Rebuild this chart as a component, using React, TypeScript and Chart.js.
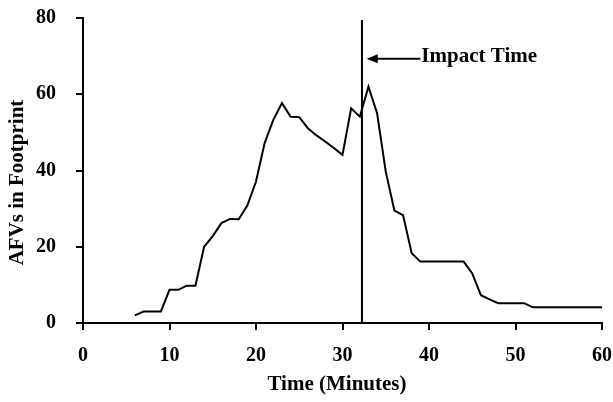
import React, { useEffect, useRef } from "react";
import { Chart, registerables } from "chart.js";

Chart.register(...registerables);

const minutes = [6, 7, 8, 9, 10, 11, 12, 13, 14, 15, 16, 17, 18, 19, 20, 21, 22, 23, 24, 25, 26, 27, 28, 29, 30, 31, 32, 33, 34, 35, 36, 37, 38, 39, 40, 41, 42, 43, 44, 45, 46, 47, 48, 49, 50, 51, 52, 53, 54, 55, 56, 57, 58, 59, 60];
const afvs = [2, 3, 3, 3, 8.7, 8.7, 9.8, 9.8, 20, 22.8, 26.2, 27.3, 27.2, 30.8, 37.1, 47.2, 53.3, 57.7, 54.1, 54, 51.1, 49.2, 47.6, 45.9, 44.1, 56.3, 54.1, 62, 55, 39.7, 29.5, 28.3, 18.3, 16.1, 16.1, 16.1, 16.1, 16.1, 16.1, 13, 7.3, 6.2, 5.2, 5.2, 5.2, 5.2, 4.1, 4.1, 4.1, 4.1, 4.1, 4.1, 4.1, 4.1, 4.1];

const xTickValues = [0, 10, 20, 30, 40, 50, 60];
const yTickValues = [0, 20, 40, 60, 80];

const impactTime = [32.25, 32.25];
const impactRange = [0, 79.5];

const annotationLabel = "Impact Time";
const arrowFrom = [39.0, 69.3];
const arrowTo = [32.8, 69.3];

const xTitle = "Time (Minutes)";
const yTitle = "AFVs in Footprint";

const FONT = "'Liberation Serif', 'Times New Roman', serif";

const overlayPlugin = {
  id: "overlay",
  afterDraw(chart: any) {
    const ctx = chart.ctx as CanvasRenderingContext2D;
    const xs = chart.scales.x;
    const ys = chart.scales.y;
    const bottom = ys.getPixelForValue(0);
    const left = xs.getPixelForValue(0);
    ctx.save();
    ctx.fillStyle = "#000";
    ctx.strokeStyle = "#000";
    ctx.lineWidth = 2;
    ctx.setLineDash([]);
    // Tick marks (outside the plot)
    for (const v of xTickValues) {
      const px = Math.round(xs.getPixelForValue(v));
      ctx.fillRect(px - 1, bottom, 2, 7);
    }
    for (const v of yTickValues) {
      const py = Math.round(ys.getPixelForValue(v));
      ctx.fillRect(left - 7, py - 1, 7, 2);
    }
    // Arrow
    const x0 = xs.getPixelForValue(arrowFrom[0]);
    const y0 = ys.getPixelForValue(arrowFrom[1]);
    const x1 = xs.getPixelForValue(arrowTo[0]);
    const y1 = ys.getPixelForValue(arrowTo[1]);
    ctx.beginPath();
    ctx.moveTo(x0, y0);
    ctx.lineTo(x1 + 8, y1);
    ctx.stroke();
    ctx.beginPath();
    ctx.moveTo(x1, y1);
    ctx.lineTo(x1 + 11, y1 - 4.5);
    ctx.lineTo(x1 + 11, y1 + 4.5);
    ctx.closePath();
    ctx.fill();
    // Annotation text
    ctx.font = `bold 21px ${FONT}`;
    ctx.textAlign = "left";
    ctx.textBaseline = "alphabetic";
    ctx.fillText(annotationLabel, x0 + 1, y0 + 3);
    // Axis titles
    ctx.textAlign = "center";
    ctx.textBaseline = "middle";
    ctx.fillText(xTitle, 337, 385);
    ctx.translate(18, 182.5);
    ctx.rotate(-Math.PI / 2);
    ctx.fillText(yTitle, 0, 0);
    ctx.restore();
  },
};

export default function App() {
  const ref = useRef<HTMLCanvasElement | null>(null);
  useEffect(() => {
    if (!ref.current) return;
    const chart = new Chart(ref.current, {
      type: "line",
      data: {
        datasets: [
          {
            data: minutes.map((m, i) => ({ x: m, y: afvs[i] })),
            borderColor: "#000",
            borderWidth: 2,
            pointRadius: 0,
            tension: 0,
            fill: false,
          },
          {
            data: impactTime.map((t, i) => ({ x: t, y: impactRange[i] })),
            borderColor: "#000",
            borderWidth: 2,
            pointRadius: 0,
            fill: false,
          },
        ],
      },
      options: {
        responsive: false,
        animation: false,
        events: [],
        layout: { padding: { left: 0, top: 18, right: 11, bottom: 0 } },
        plugins: { legend: { display: false }, tooltip: { enabled: false } },
        scales: {
          x: {
            type: "linear",
            min: 0,
            max: 60,
            afterFit: (s: any) => {
              s.height = 79;
              s.paddingLeft = 0;
              s.paddingRight = 0;
            },
            ticks: {
              stepSize: 10,
              color: "#000",
              padding: 13,
              maxRotation: 0,
              font: { family: FONT, size: 20, weight: "bold" },
            },
            grid: { display: false },
            border: { display: true, color: "#000", width: 2 },
          },
          y: {
            type: "linear",
            min: 0,
            max: 80,
            afterFit: (s: any) => {
              s.width = 83;
              s.paddingTop = 0;
              s.paddingBottom = 0;
            },
            ticks: {
              stepSize: 20,
              color: "#000",
              padding: 19,
              font: { family: FONT, size: 20, weight: "bold" },
            },
            grid: { display: false },
            border: { display: true, color: "#000", width: 2 },
          },
        },
      },
      plugins: [overlayPlugin],
    });
    return () => chart.destroy();
  }, []);
  return (
    <canvas
      ref={ref}
      width={613}
      height={402}
      style={{ position: "fixed", left: 0, top: 0, width: 613, height: 402, background: "#fff" }}
    />
  );
}
